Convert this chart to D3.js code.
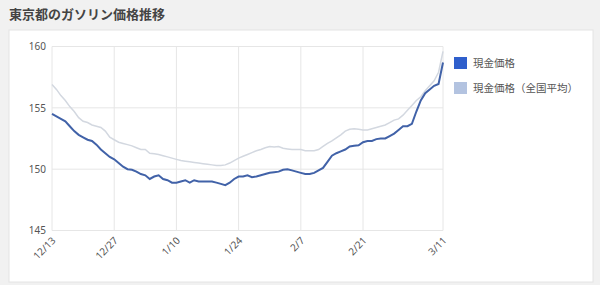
<!DOCTYPE html>
<html>
<head>
<meta charset="utf-8">
<script src="https://cdn.jsdelivr.net/npm/d3@7"></script>
<style>
  body { margin: 0; background: #f1f1f1; font-family: "Noto Sans CJK JP", "Noto Sans", sans-serif; }
  svg { display: block; }
  .grid line { stroke: #e6e6e6; }
  .axis text { fill: #555; font-size: 10px; font-family: "Noto Sans", "Liberation Sans", sans-serif; }
  .axis path, .axis line { display: none; }
</style>
</head>
<body>
<svg id="chart" width="600" height="285"></svg>
<script>
// daily prices from 12/13 to 3/11
const startDate = new Date(2021, 11, 13)
const tokyoPrice = [
  154.5, 154.3, 154.1, 153.9, 153.5, 153.1, 152.8, 152.6, 152.4, 152.3,
  152.0, 151.6, 151.3, 151.0, 150.8, 150.5, 150.2, 150.0, 149.95, 149.8,
  149.6, 149.5, 149.2, 149.4, 149.5, 149.2, 149.1, 148.9, 148.9, 149.0,
  149.1, 148.9, 149.1, 149.0, 149.0, 149.0, 149.0, 148.9, 148.8, 148.7,
  148.9, 149.2, 149.4, 149.4, 149.5, 149.35, 149.4, 149.5, 149.6, 149.7,
  149.75, 149.8, 149.95, 150.0, 149.9, 149.8, 149.7, 149.6, 149.6, 149.7,
  149.9, 150.1, 150.6, 151.1, 151.3, 151.45, 151.6, 151.85, 151.9, 151.95,
  152.2, 152.3, 152.3, 152.45, 152.5, 152.5, 152.7, 152.9, 153.2, 153.5,
  153.5, 153.7, 154.7, 155.6, 156.2, 156.5, 156.8, 156.95, 158.7
]
const nationalPrice = [
  156.9, 156.5, 156.0, 155.6, 155.1, 154.7, 154.2, 153.9, 153.8, 153.6,
  153.5, 153.4, 153.1, 152.6, 152.4, 152.2, 152.1, 152.0, 151.9, 151.75,
  151.6, 151.6, 151.3, 151.25, 151.2, 151.1, 151.0, 150.9, 150.8, 150.7,
  150.65, 150.6, 150.55, 150.5, 150.45, 150.4, 150.35, 150.3, 150.3, 150.35,
  150.5, 150.7, 150.9, 151.05, 151.2, 151.35, 151.5, 151.6, 151.75, 151.85,
  151.8, 151.85, 151.7, 151.65, 151.6, 151.6, 151.6, 151.5, 151.5, 151.5,
  151.6, 151.85, 152.1, 152.3, 152.55, 152.8, 153.1, 153.25, 153.3, 153.25,
  153.2, 153.2, 153.3, 153.4, 153.5, 153.6, 153.8, 154.0, 154.1, 154.4,
  154.8, 155.2, 155.6, 155.9, 156.4, 156.8, 157.2, 157.9, 159.6
]
const seriesNames = ['現金価格', '現金価格（全国平均）']
const xTickLabels = ['12/13', '12/27', '1/10', '1/24', '2/7', '2/21', '3/11']
const yTicks = [145, 150, 155, 160]

const dayOf = i => d3.timeDay.offset(startDate, i)
const parseLabel = s => {
  const [m, d] = s.split('/').map(Number)
  return new Date(m === 12 ? 2021 : 2022, m - 1, d)
}

const svg = d3.select('#chart')
const M = { left: 52, right: 443, top: 46.5, bottom: 230.5 }

svg.append('text')
  .attr('x', 9).attr('y', 19)
  .attr('font-size', 13).attr('font-weight', 'bold').attr('fill', '#444')
  .text('東京都のガソリン価格推移')

svg.append('rect')
  .attr('x', 9).attr('y', 30).attr('width', 584).attr('height', 252)
  .attr('fill', '#fff').attr('stroke', '#e4e4e4')

const x = d3.scaleTime()
  .domain([startDate, dayOf(tokyoPrice.length - 1)])
  .range([M.left, M.right])
const y = d3.scaleLinear().domain([145, 160]).range([M.bottom, M.top])

const xTickDates = xTickLabels.map(parseLabel)

// gridlines
const grid = svg.append('g').attr('class', 'grid')
grid.selectAll('.h').data(yTicks).join('line')
  .attr('x1', M.left).attr('x2', M.right)
  .attr('y1', d => y(d)).attr('y2', d => y(d))
grid.selectAll('.v').data(xTickDates).join('line')
  .attr('x1', d => x(d)).attr('x2', d => x(d))
  .attr('y1', M.top).attr('y2', M.bottom)

// axes
svg.append('g').attr('class', 'axis')
  .attr('transform', `translate(${M.left - 4},0)`)
  .call(d3.axisLeft(y).tickValues(yTicks).tickSize(0).tickPadding(2))

const xAxis = svg.append('g').attr('class', 'axis')
  .attr('transform', `translate(0,${M.bottom + 4})`)
  .call(d3.axisBottom(x).tickValues(xTickDates).tickSize(0).tickFormat((d, i) => xTickLabels[i]))
xAxis.selectAll('text')
  .attr('text-anchor', 'end')
  .attr('dy', '0.35em').attr('dx', '-0.2em')
  .attr('y', 4)
  .attr('transform', 'rotate(-45)')

const line = d3.line().x((d, i) => x(dayOf(i))).y(d => y(d))

svg.append('path').datum(nationalPrice)
  .attr('d', line).attr('fill', 'none')
  .attr('stroke', '#d3d8e0').attr('stroke-width', 1.5)
svg.append('path').datum(tokyoPrice)
  .attr('d', line).attr('fill', 'none')
  .attr('stroke', '#4162a8').attr('stroke-width', 2)

// legend
const legendColors = ['#2f5fcc', '#b3c3e0']
const legend = svg.append('g').selectAll('g').data(seriesNames).join('g')
  .attr('transform', (d, i) => `translate(454,${57 + i * 25})`)
legend.append('rect').attr('width', 13).attr('height', 12)
  .attr('fill', (d, i) => legendColors[i])
legend.append('text').attr('x', 19).attr('y', 10)
  .attr('font-size', 10.5).attr('fill', '#555').text(d => d)
</script>
</body>
</html>
